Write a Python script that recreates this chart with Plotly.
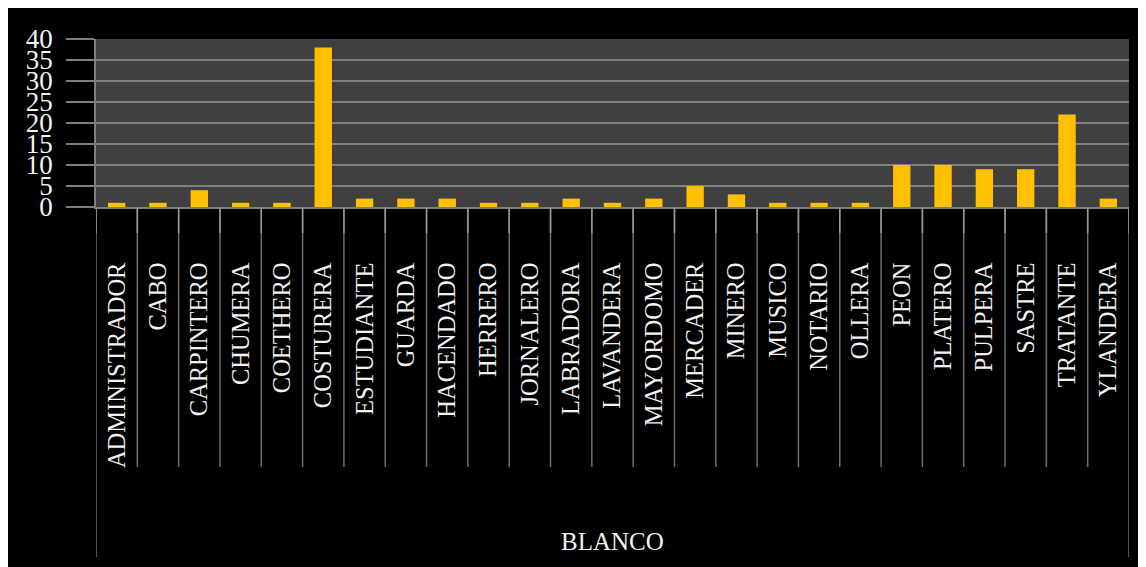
import plotly.graph_objects as go

categories = ["ADMINISTRADOR", "CABO", "CARPINTERO", "CHUMERA", "COETHERO", "COSTURERA",
              "ESTUDIANTE", "GUARDA", "HACENDADO", "HERRERO", "JORNALERO", "LABRADORA",
              "LAVANDERA", "MAYORDOMO", "MERCADER", "MINERO", "MUSICO", "NOTARIO", "OLLERA",
              "PEON", "PLATERO", "PULPERA", "SASTRE", "TRATANTE", "YLANDERA"]
values = [1, 1, 4, 1, 1, 38, 2, 2, 2, 1, 1, 2, 1, 2, 5, 3, 1, 1, 1, 10, 10, 9, 9, 22, 2]
group_label = "BLANCO"
y_ticks = [0, 5, 10, 15, 20, 25, 30, 35, 40]

FONT = "Liberation Serif"
TXT = "#f2f2f2"
LINE = "#7f7f7f"

# page has an 8px body margin; figure sized to fill the rest of the 1146x567 window
OFF = 8
W, H = 1146 - OFF, 567 - OFF
L, R, T, B = 96 - OFF, 17, 39 - OFF, 360
pw, ph = W - L - R, H - T - B

fig = go.Figure(go.Bar(x=categories, y=values, marker=dict(color="#FFC000", line=dict(width=0)),
                       width=0.42))

n = len(categories)
shapes = []
for i in range(n + 1):
    outer = i in (0, n)
    y1 = -(557 - 207) / ph if outer else -(467 - 207) / ph
    shapes.append(dict(type="line", xref="x", yref="paper", x0=i - 0.5, x1=i - 0.5, y0=0, y1=y1,
                       line=dict(color="#6e6e6e", width=1.5)))
    shapes.append(dict(type="line", xref="x", yref="paper", x0=i - 0.5, x1=i - 0.5, y0=0, y1=-26 / ph,
                       line=dict(color="#999999", width=1.5)))

fig.update_layout(
    width=W, height=H,
    margin=dict(l=L, r=R, t=T, b=B, pad=0),
    paper_bgcolor="black", plot_bgcolor="#404040",
    showlegend=False,
    bargap=0.58,
    font=dict(family=FONT, color=TXT, size=25),
    shapes=shapes,
    annotations=[dict(text=group_label, xref="x", yref="paper", x=(n - 1) / 2, y=-(541 - 207) / ph,
                      showarrow=False, font=dict(family=FONT, size=25, color=TXT),
                      xanchor="center", yanchor="middle")],
    xaxis=dict(type="category", range=[-0.5, n - 0.5], tickangle=-90, showgrid=False,
               ticks="", ticklabelstandoff=44, tickfont=dict(family=FONT, size=24.5, color=TXT),
               showline=True, linecolor=LINE, linewidth=1.5, zeroline=False),
    yaxis=dict(range=[0, 40], tickvals=y_ticks, showgrid=True, gridcolor=LINE, gridwidth=1.5,
               ticks="outside", ticklen=28, tickcolor=LINE, tickwidth=1.5, ticklabelstandoff=8,
               tickfont=dict(family=FONT, size=27, color=TXT), showline=True, linecolor=LINE,
               linewidth=1.5, zeroline=False),
)

fig.write_html("out.html")
